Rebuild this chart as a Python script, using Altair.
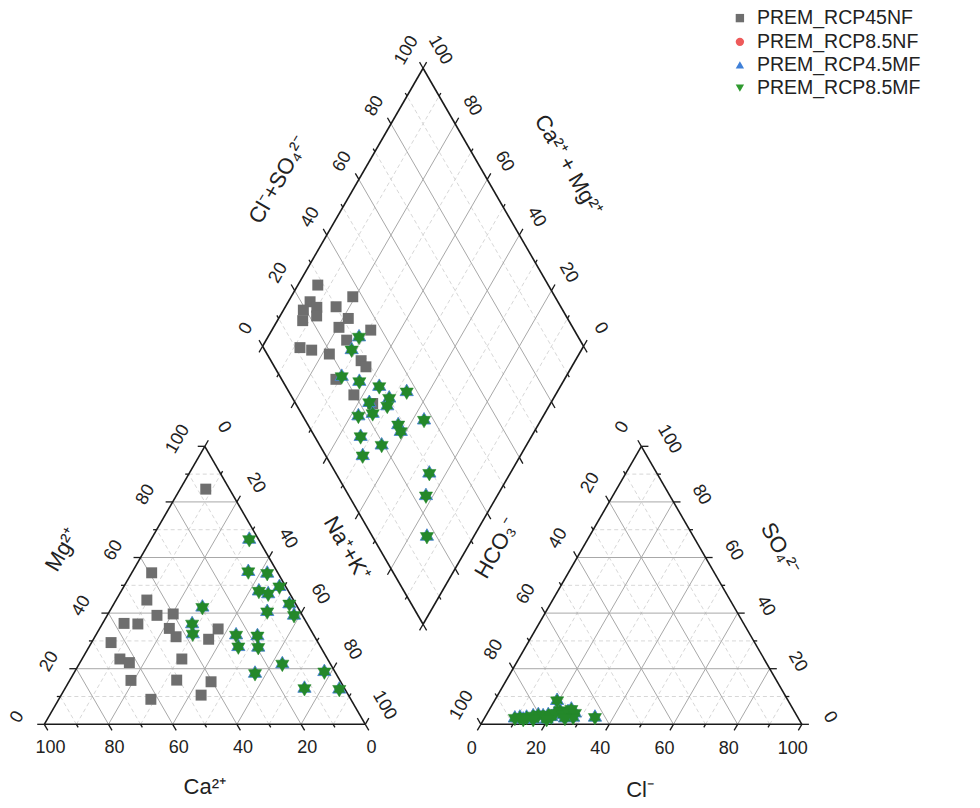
import numpy as np
import pandas as pd
import altair as alt

# ---------------- data ----------------
series_names = ["PREM_RCP45NF", "PREM_RCP8.5NF", "PREM_RCP4.5MF", "PREM_RCP8.5MF"]
series_colors = ["#6e6e6e", "#ee5a5a", "#3f80d8", "#2f9a2f"]
series_shapes = ["square", "circle", "triangle-up", "triangle-down"]

# cation triangle: Na+K and Mg (percent), Ca = 100 - Na - Mg
nf_cat_na = [8.0, 6.2, 9.6, 15.5, 20.3, 6.7, 11.1, 21.7, 25.3, 6.1, 11.8, 15.4,
             31.1, 19.1, 33.3, 28.7, 43.6, 35.9, 44.3, 37.0]
nf_cat_mg = [84.6, 54.5, 44.7, 39.2, 39.7, 36.3, 36.1, 34.5, 31.5, 29.4, 23.5, 22.2,
             23.5, 15.8, 15.9, 9.0, 10.5, 30.6, 15.3, 34.3]
mf_cat_na = [30.6, 36.1, 42.3, 48.5, 42.9, 46.3, 54.7, 49.2, 58.2, 28.2, 28.0, 30.0,
             43.7, 50.5, 46.5, 52.8, 63.3, 56.5, 77.8, 74.6, 85.6]
mf_cat_mg = [66.5, 54.9, 54.3, 49.5, 47.9, 46.9, 43.3, 40.5, 39.2, 42.1, 36.1, 32.5,
             32.1, 31.8, 27.9, 27.7, 21.7, 18.3, 18.9, 12.9, 12.6]

# anion triangle: Cl and SO4 (percent), HCO3 = 100 - Cl - SO4
mf_an_cl = [9.5, 10.9, 13.0, 14.8, 16.2, 17.9, 19.3, 20.6, 21.1, 19.5, 22.2, 23.9,
            24.9, 25.5, 27.3, 27.5, 19.6, 15.4, 12.3, 25.1, 34.3]
mf_an_so4 = [2.2, 2.5, 2.5, 3.0, 3.4, 3.0, 3.4, 2.7, 4.0, 8.5, 4.9, 3.4,
             4.5, 5.4, 4.0, 2.5, 1.8, 1.8, 1.8, 2.2, 2.5]

# diamond: Ca+Mg and Cl+SO4 (percent)
nf_dia_camg = [93.8, 80.8, 93.2, 90.1, 93.8, 88.6, 92.1, 84.2, 78.3, 79.6, 69.2, 74.9,
               88.1, 84.0, 77.8, 66.7, 64.1, 71.2, 62.8, 55.4]
nf_dia_clso4 = [28.2, 37.0, 22.8, 23.9, 19.2, 22.3, 17.1, 30.0, 31.7, 27.2, 36.6, 27.3,
                11.4, 14.6, 19.4, 28.1, 28.5, 16.9, 19.7, 24.0]
mf_dia_camg = [69.9, 63.5, 56.4, 46.9, 56.6, 51.2, 50.4, 57.6, 53.6, 43.6, 41.6, 36.4,
               53.2, 45.1, 49.1, 25.2, 22.2, 14.6, 71.6, 71.6]
mf_dia_clso4 = [19.2, 23.8, 29.1, 36.7, 23.1, 30.1, 28.1, 17.3, 22.2, 28.1, 27.7, 37.0,
                14.3, 19.3, 11.5, 29.1, 24.0, 17.0, 31.7, 27.1]

tick_values = [0, 20, 40, 60, 80, 100]

# ---------------- geometry ----------------
S3 = np.sqrt(3) / 2
GAP = 36.0
OX = 100.0 + GAP
BX, BY = 100.0 + GAP / 2, GAP / 2 * np.sqrt(3)


def cat_xy(na, mg):
    return (na + mg / 2.0, mg * S3)


def an_xy(cl, so4):
    return (OX + cl + so4 / 2.0, so4 * S3)


def dia_xy(camg, clso4):
    return (BX + (clso4 - camg) / 2.0, BY + (clso4 + camg) * S3)


def seg(p, q):
    return {"x": p[0], "y": p[1], "x2": q[0], "y2": q[1]}


outline, grid_major, grid_minor, ticks = [], [], [], []

for a, b in [((0, 0), (100, 0)), ((100, 0), (0, 100)), ((0, 100), (0, 0))]:
    outline.append(seg(cat_xy(*a), cat_xy(*b)))
    outline.append(seg(an_xy(*a), an_xy(*b)))
for a, b in [((0, 0), (100, 0)), ((100, 0), (100, 100)), ((100, 100), (0, 100)), ((0, 100), (0, 0))]:
    outline.append(seg(dia_xy(*a), dia_xy(*b)))

for k in range(10, 100, 10):
    lst = grid_major if k % 20 == 0 else grid_minor
    lst.append(seg(cat_xy(0, k), cat_xy(100 - k, k)))
    lst.append(seg(cat_xy(k, 0), cat_xy(k, 100 - k)))
    lst.append(seg(cat_xy(100 - k, 0), cat_xy(0, 100 - k)))
    lst.append(seg(an_xy(0, k), an_xy(100 - k, k)))
    lst.append(seg(an_xy(k, 0), an_xy(k, 100 - k)))
    lst.append(seg(an_xy(100 - k, 0), an_xy(0, 100 - k)))
    lst.append(seg(dia_xy(0, k), dia_xy(100, k)))
    lst.append(seg(dia_xy(k, 0), dia_xy(k, 100)))


def tick(p, d, L):
    return seg(p, (p[0] + d[0] * L, p[1] + d[1] * L))


for k in range(0, 101, 10):
    L = 2.2 if k % 20 == 0 else 1.1
    ticks.append(tick(cat_xy(0, k), (-1, 0), L))
    ticks.append(tick(cat_xy(k, 100 - k), (0.5, S3), L))
    ticks.append(tick(cat_xy(100 - k, 0), (0.5, -S3), L))
    ticks.append(tick(an_xy(100 - k, k), (1, 0), L))
    ticks.append(tick(an_xy(0, 100 - k), (-0.5, S3), L))
    ticks.append(tick(an_xy(k, 0), (-0.5, -S3), L))
    ticks.append(tick(dia_xy(100, k), (-0.5, S3), L))
    ticks.append(tick(dia_xy(0, k), (0.5, -S3), L))
    ticks.append(tick(dia_xy(k, 100), (0.5, S3), L))
    ticks.append(tick(dia_xy(k, 0), (-0.5, -S3), L))

labels = []
for k in tick_values:
    def add(p, off, ang):
        labels.append({"x": p[0] + off[0], "y": p[1] + off[1], "t": str(k), "a": ang})
    add(cat_xy(100 - k, 0), (1.9, -7.5), 0)        # Ca
    add(cat_xy(0, k), (-8.4, 2.2), 300)            # Mg
    add(cat_xy(k, 100 - k), (5.9, 5.9), 60)        # Na+K
    add(an_xy(k, 0), (-2.8, -7.6), 0)              # Cl
    add(an_xy(100 - k, k), (8.7, 2.2), 60)         # SO4
    add(an_xy(0, 100 - k), (-5.9, 5.9), 300)       # HCO3
    add(dia_xy(100, k), (-5.1, 5.5), 300)          # Cl+SO4
    add(dia_xy(k, 100), (5.3, 5.6), 60)            # Ca+Mg
labels = pd.DataFrame(labels)

titles = pd.DataFrame([
    {"x": 50.0, "y": -19.4, "t": "Ca²⁺", "a": 0},
    {"x": 5.6, "y": 54.3, "t": "Mg²⁺", "a": 300},
    {"x": 94.2, "y": 54.8, "t": "Na⁺+K⁺", "a": 60},
    {"x": 185.6, "y": -20.5, "t": "Cl⁻", "a": 0},
    {"x": 140.9, "y": 54.8, "t": "HCO₃⁻", "a": 300},
    {"x": 229.2, "y": 54.8, "t": "SO₄²⁻", "a": 60},
    {"x": 72.9, "y": 169.5, "t": "Cl⁻+SO₄²⁻", "a": 300},
    {"x": 163.2, "y": 174.2, "t": "Ca²⁺ + Mg²⁺", "a": 60},
])


def pts(fn, a, b):
    xy = [fn(u, v) for u, v in zip(a, b)]
    return pd.DataFrame({"x": [p[0] for p in xy], "y": [p[1] for p in xy]})


nf_pts = pd.concat([pts(cat_xy, nf_cat_na, nf_cat_mg),
                    pts(dia_xy, nf_dia_camg, nf_dia_clso4)], ignore_index=True)
mf_pts = pd.concat([pts(cat_xy, mf_cat_na, mf_cat_mg),
                    pts(an_xy, mf_an_cl, mf_an_so4),
                    pts(dia_xy, mf_dia_camg, mf_dia_clso4)], ignore_index=True)

leg_y = [220.0, 212.6, 205.4, 198.2]
leg = pd.DataFrame({"x": [216.7] * 4, "tx": [222.0] * 4, "y": leg_y, "t": series_names,
                    "c": series_colors, "s": series_shapes})

# ---------------- chart ----------------
xs = alt.Scale(domain=[-13.80, 291.50], nice=False, zero=False)
ys = alt.Scale(domain=[-26.07, 225.64], nice=False, zero=False)
X = lambda f="x": alt.X(f"{f}:Q", scale=xs, axis=None)
Y = lambda f="y": alt.Y(f"{f}:Q", scale=ys, axis=None)


def rules(rows, **kw):
    return alt.Chart(pd.DataFrame(rows)).mark_rule(**kw).encode(
        x=X(), y=Y(), x2="x2:Q", y2="y2:Q")


# centroid-centred triangles so that up + down overlap as a hexagram
TRI_UP = "M0,-1.1547L1,0.5774L-1,0.5774Z"
TRI_DOWN = "M0,1.1547L1,-0.5774L-1,-0.5774Z"
GREEN = "#24882a"

FONT = "Liberation Sans"
layers = [
    rules(grid_minor, color="#d2d2d2", strokeWidth=0.9, strokeDash=[4, 3]),
    rules(grid_major, color="#a8a8a8", strokeWidth=1),
    rules(outline, color="#1a1a1a", strokeWidth=1.6),
    rules(ticks, color="#1a1a1a", strokeWidth=1.3),
    alt.Chart(nf_pts).mark_point(shape="square", filled=True, size=120, color="#6e6e6e",
                                 opacity=1).encode(x=X(), y=Y()),
    alt.Chart(mf_pts).mark_point(shape=TRI_UP, filled=True, size=175, fill=GREEN,
                                 stroke="#4a82d4", strokeWidth=0.9, opacity=1).encode(x=X(), y=Y()),
    alt.Chart(mf_pts).mark_point(shape=TRI_DOWN, filled=True, size=175, fill=GREEN,
                                 stroke=GREEN, strokeWidth=0.5, opacity=1).encode(x=X(), y=Y()),
]
for ang in [0, 60, 300]:
    layers.append(alt.Chart(labels[labels.a == ang]).mark_text(
        angle=ang, font=FONT, fontSize=18, color="#222222", align="center", baseline="middle"
    ).encode(x=X(), y=Y(), text="t:N"))
    layers.append(alt.Chart(titles[titles.a == ang]).mark_text(
        angle=ang, font=FONT, fontSize=22, color="#222222", align="center", baseline="middle"
    ).encode(x=X(), y=Y(), text="t:N"))

layers.append(alt.Chart(leg).mark_point(filled=True, size=70, opacity=1).encode(
    x=X(), y=Y(),
    color=alt.Color("c:N", scale=None),
    shape=alt.Shape("s:N", scale=None)))
layers.append(alt.Chart(leg).mark_text(font=FONT, fontSize=19.5, color="#222222", align="left",
                                       baseline="middle").encode(x=X("tx"), y=Y(), text="t:N"))

chart = alt.layer(*layers).properties(
    width=980, height=808, padding=0, autosize=alt.AutoSizeParams(type="none")
).configure_view(stroke=None)

chart.save("out.html", embed_options={"renderer": "svg", "actions": False})
